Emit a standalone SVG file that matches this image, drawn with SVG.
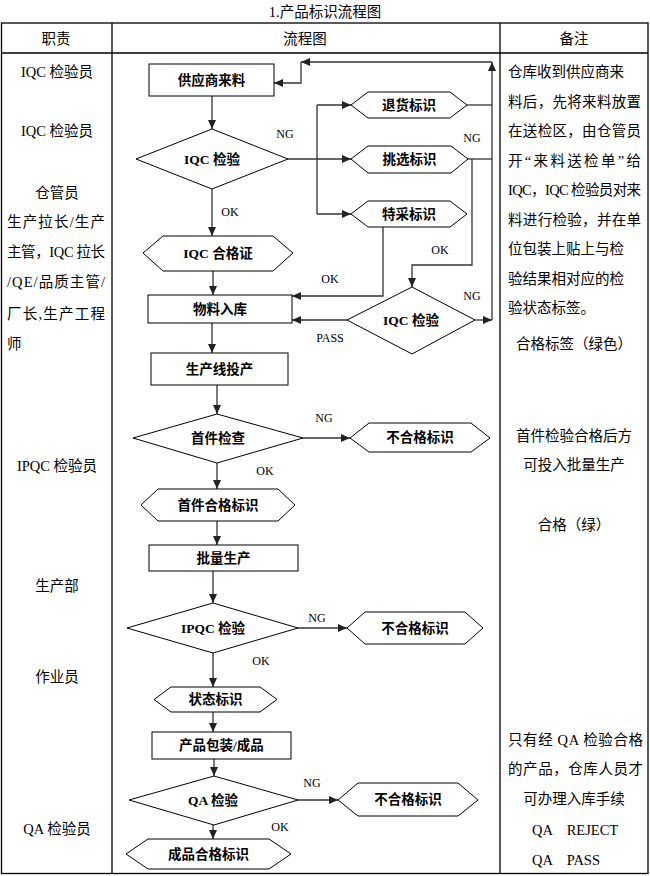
<svg xmlns="http://www.w3.org/2000/svg" width="650" height="876" viewBox="0 0 650 876">
<style>
.t{font-family:"Liberation Serif","Noto Sans CJK SC",serif;font-size:14.5px;fill:#000;dominant-baseline:central}
.c{text-anchor:middle}
.n{font-family:"Liberation Serif","Noto Sans CJK SC",serif;font-size:13.5px;font-weight:bold;fill:#000;text-anchor:middle;dominant-baseline:central}
.l{font-family:"Liberation Serif","Noto Sans CJK SC",serif;font-size:12px;fill:#000;text-anchor:middle;dominant-baseline:central}
.s{fill:#fff;stroke:#000;stroke-width:1}
.k{fill:none;stroke:#333;stroke-width:1.3}
.a{fill:none;stroke:#333;stroke-width:1.3;marker-end:url(#ar)}
.g{fill:none;stroke:#000;stroke-width:1.3}
</style>
<defs>
<marker id="ar" markerUnits="userSpaceOnUse" markerWidth="10" markerHeight="8" refX="9" refY="4" orient="auto">
<path d="M0,0 L9,4 L0,8 z" fill="#222"/>
</marker>
</defs>
<rect width="650" height="876" fill="#fff"/>
<text class="t c" x="325" y="12" style="font-size:14.5px">1.产品标识流程图</text>
<g id="table">
<rect class="g" x="1.5" y="23" width="646.5" height="850.5"/>
<line class="g" x1="1.5" y1="53" x2="648" y2="53"/>
<line class="g" x1="112" y1="23" x2="112" y2="873.5"/>
<line class="g" x1="500" y1="23" x2="500" y2="873.5"/>
<text class="t c" x="56" y="39">职责</text>
<text class="t c" x="305" y="39">流程图</text>
<text class="t c" x="574" y="39">备注</text>
</g>
<g id="col-left">
<text class="t c" x="57" y="72">IQC 检验员</text>
<text class="t c" x="57" y="131">IQC 检验员</text>
<text class="t c" x="57" y="193">仓管员</text>
<text class="t" x="7" y="222" textLength="98" lengthAdjust="spacing">生产拉长/生产</text>
<text class="t" x="7" y="252" textLength="98" lengthAdjust="spacing">主管，IQC 拉长</text>
<text class="t" x="7" y="282" textLength="98" lengthAdjust="spacing">/QE/品质主管/</text>
<text class="t" x="7" y="314" textLength="98" lengthAdjust="spacing">厂长,生产工程</text>
<text class="t" x="7" y="344">师</text>
<text class="t c" x="57" y="466">IPQC 检验员</text>
<text class="t c" x="57" y="586">生产部</text>
<text class="t c" x="57" y="677">作业员</text>
<text class="t c" x="57" y="829">QA 检验员</text>
</g>
<g id="col-right">
<text class="t" x="508" y="72">仓库收到供应商来</text>
<text class="t" x="508" y="101.5" textLength="133" lengthAdjust="spacing">料后，先将来料放置</text>
<text class="t" x="508" y="131" textLength="133" lengthAdjust="spacing">在送检区，由仓管员</text>
<text class="t" x="508" y="160.5" textLength="133" lengthAdjust="spacing">开“来料送检单”给</text>
<text class="t" x="508" y="190" textLength="133" lengthAdjust="spacing">IQC，IQC 检验员对来</text>
<text class="t" x="508" y="219.5" textLength="133" lengthAdjust="spacing">料进行检验，并在单</text>
<text class="t" x="508" y="249">位包装上贴上与检</text>
<text class="t" x="508" y="278.5">验结果相对应的检</text>
<text class="t" x="508" y="308">验状态标签。</text>
<text class="t c" x="574" y="344">合格标签（绿色）</text>
<text class="t c" x="574" y="436">首件检验合格后方</text>
<text class="t c" x="574" y="465">可投入批量生产</text>
<text class="t c" x="574" y="525">合格（绿）</text>
<text class="t" x="508" y="740" textLength="135" lengthAdjust="spacing">只有经 QA 检验合格</text>
<text class="t" x="508" y="769" textLength="135" lengthAdjust="spacing">的产品，仓库人员才</text>
<text class="t c" x="574" y="799">可办理入库手续</text>
<text class="t" x="532" y="830" xml:space="preserve">QA    REJECT</text>
<text class="t" x="532" y="860" xml:space="preserve">QA    PASS</text>
</g>
<g id="connectors">
<line class="a" x1="212" y1="96" x2="212" y2="129"/>
<line class="a" x1="212" y1="189" x2="212" y2="236"/>
<line class="a" x1="213" y1="271" x2="213" y2="295"/>
<line class="a" x1="212" y1="323" x2="212" y2="353"/>
<line class="a" x1="217" y1="385" x2="217" y2="414"/>
<line class="a" x1="217" y1="463" x2="217" y2="489"/>
<line class="a" x1="217" y1="521" x2="217" y2="545"/>
<line class="a" x1="213" y1="571" x2="213" y2="603"/>
<line class="a" x1="213" y1="653" x2="213" y2="687"/>
<line class="a" x1="213" y1="712" x2="213" y2="732"/>
<line class="a" x1="214" y1="759" x2="214" y2="776"/>
<line class="a" x1="213" y1="825" x2="213" y2="839"/>
<line class="a" x1="288" y1="159" x2="351" y2="159"/>
<line class="k" x1="317" y1="105" x2="317" y2="214"/>
<line class="a" x1="317" y1="105" x2="351" y2="105"/>
<line class="a" x1="317" y1="214" x2="351" y2="214"/>
<line class="k" x1="467" y1="105" x2="492" y2="105"/>
<line class="k" x1="468" y1="159" x2="492" y2="159"/>
<line class="a" x1="475" y1="320" x2="492" y2="320"/>
<line class="a" x1="492" y1="320" x2="492" y2="62"/>
<line class="a" x1="492" y1="62" x2="301" y2="62"/>
<polyline class="a" points="301,62 301,83 274,83"/>
<polyline class="a" points="472,159 472,265 412,265 412,287"/>
<polyline class="a" points="383,227 383,296 292,296"/>
<line class="a" x1="347" y1="320" x2="292" y2="320"/>
<line class="a" x1="303" y1="438" x2="350" y2="438"/>
<line class="a" x1="298" y1="628" x2="347" y2="628"/>
<line class="a" x1="298" y1="800" x2="338" y2="800"/>
<text class="l" x="285" y="134">NG</text>
<text class="l" x="472" y="138">NG</text>
<text class="l" x="230" y="212">OK</text>
<text class="l" x="440" y="250">OK</text>
<text class="l" x="330" y="279">OK</text>
<text class="l" x="472" y="296">NG</text>
<text class="l" x="330" y="338">PASS</text>
<text class="l" x="324" y="418">NG</text>
<text class="l" x="265" y="471">OK</text>
<text class="l" x="317" y="618">NG</text>
<text class="l" x="261" y="661">OK</text>
<text class="l" x="312" y="783">NG</text>
<text class="l" x="280" y="827">OK</text>
</g>
<g id="n-supply"><rect class="s" x="149" y="64" width="125" height="32"/><text class="n" x="211.5" y="80">供应商来料</text></g>
<g id="n-iqc1"><polygon class="s" points="136,159 212,129 288,159 212,189"/><text class="n" x="212" y="159">IQC 检验</text></g>
<g id="n-return"><polygon class="s" points="351,105 368,92 450,92 467,105 450,118 368,118"/><text class="n" x="409" y="105">退货标识</text></g>
<g id="n-pick"><polygon class="s" points="351,159 368,146 451,146 468,159 451,173 368,173"/><text class="n" x="409.5" y="159.5">挑选标识</text></g>
<g id="n-special"><polygon class="s" points="351,214 368,201 450,201 467,214 450,227 368,227"/><text class="n" x="409" y="214">特采标识</text></g>
<g id="n-iqccert"><polygon class="s" points="143,253 163,236 273,236 293,253 273,271 163,271"/><text class="n" x="218" y="253">IQC 合格证</text></g>
<g id="n-store"><rect class="s" x="148" y="295" width="144" height="28"/><text class="n" x="220" y="309">物料入库</text></g>
<g id="n-iqc2"><polygon class="s" points="347,320 412,287 475,320 412,354"/><text class="n" x="411" y="320">IQC 检验</text></g>
<g id="n-line"><rect class="s" x="151" y="353" width="137" height="32"/><text class="n" x="219.5" y="369">生产线投产</text></g>
<g id="n-first"><polygon class="s" points="133,438 217,414 303,438 217,463"/><text class="n" x="218" y="438">首件检查</text></g>
<g id="n-ng1"><polygon class="s" points="350,438 369,423 471,423 490,438 471,452 369,452"/><text class="n" x="420" y="437.5">不合格标识</text></g>
<g id="n-firstok"><polygon class="s" points="141,505 158,489 278,489 295,505 278,521 158,521"/><text class="n" x="218" y="505">首件合格标识</text></g>
<g id="n-batch"><rect class="s" x="149" y="545" width="149" height="26"/><text class="n" x="223.5" y="558">批量生产</text></g>
<g id="n-ipqc"><polygon class="s" points="127,628 213,603 298,628 213,653"/><text class="n" x="213" y="628">IPQC 检验</text></g>
<g id="n-ng2"><polygon class="s" points="347,628 365,612 465,612 483,628 465,644 365,644"/><text class="n" x="415" y="628">不合格标识</text></g>
<g id="n-status"><polygon class="s" points="154,699.5 171,687 260,687 277,699.5 260,712 171,712"/><text class="n" x="215.5" y="699.5">状态标识</text></g>
<g id="n-pack"><rect class="s" x="152" y="732" width="139" height="27"/><text class="n" x="221.5" y="745.5">产品包装/成品</text></g>
<g id="n-qa"><polygon class="s" points="129,800 214,776 298,800 214,825"/><text class="n" x="213" y="800">QA 检验</text></g>
<g id="n-ng3"><polygon class="s" points="338,800 358,783 458,783 478,800 458,816 358,816"/><text class="n" x="408" y="799.5">不合格标识</text></g>
<g id="n-final"><polygon class="s" points="126,854 148,839 269,839 291,854 269,869 148,869"/><text class="n" x="208.5" y="854">成品合格标识</text></g>
</svg>
